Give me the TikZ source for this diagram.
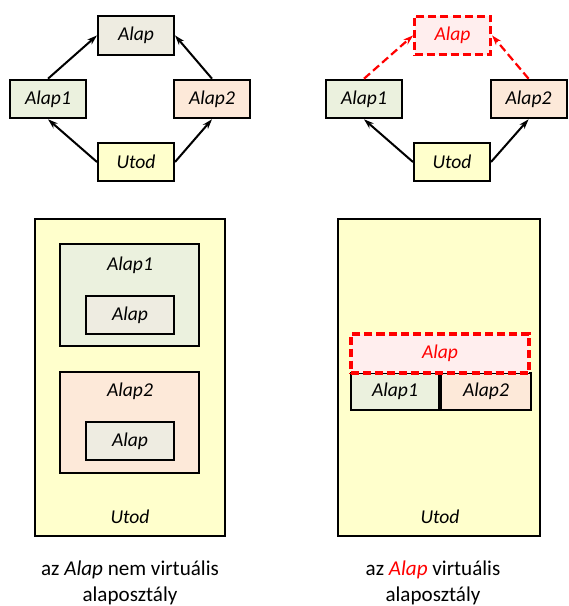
\documentclass[tikz,border=0pt]{standalone}
\usepackage{fontspec}
\setmainfont{Carlito}
\usepackage{tikz}
\usetikzlibrary{positioning, arrows.meta}

\definecolor{alapfill}{HTML}{EEECE1}
\definecolor{egyfill}{HTML}{EBF1DE}
\definecolor{kettofill}{HTML}{FDE9D9}
\definecolor{utodfill}{HTML}{FFFFCC}
\definecolor{virtfill}{HTML}{FFEEEE}

\begin{document}
\begin{tikzpicture}[
  >={Stealth[length=10pt, width=6.5pt]},
  cls/.style={draw, line width=2pt, minimum width=2.66cm,
    minimum height=1.35cm, font=\fontsize{19.5}{23}\selectfont\itshape,
    inner sep=0pt},
  virt/.style={cls, draw=red, fill=virtfill, dashed,
    dash pattern=on 8pt off 4pt, line width=3pt, text=red},
  box/.style={draw, line width=2pt, inner sep=0pt},
  lbl/.style={font=\fontsize{19.5}{23}\selectfont\itshape},
  caption/.style={font=\fontsize{21}{26}\selectfont, align=center},
  inherit/.style={->, line width=2pt},
  vinherit/.style={->, line width=2.2pt, red, dashed,
    dash pattern=on 8pt off 4pt},
]
\useasboundingbox (0,0) rectangle (19.915,21.21);

% === non-virtual (left) ===
\node[cls, fill=alapfill] (alapA) at (4.76, 19.97) {Alap};
\node[cls, fill=egyfill] (egyA) at (1.68, 17.745) {Alap1};
\node[cls, fill=kettofill] (kettoA) at (7.42, 17.745) {Alap2};
\node[cls, fill=utodfill] (utodA) at (4.76, 15.54) {Utod};

\draw[inherit] (egyA.north) -- (alapA.west);
\draw[inherit] (kettoA.north) -- (alapA.east);
\draw[inherit] (utodA.west) -- (egyA.south);
\draw[inherit] (utodA.east) -- (kettoA.south);

% === virtual (right) ===
\node[virt] (alapB) at (15.84, 19.97) {Alap};
\node[cls, fill=egyfill] (egyB) at (12.74, 17.745) {Alap1};
\node[cls, fill=kettofill] (kettoB) at (18.5, 17.745) {Alap2};
\node[cls, fill=utodfill] (utodB) at (15.82, 15.54) {Utod};

\draw[vinherit] (egyB.north) -- (alapB.west);
\draw[vinherit] (kettoB.north) -- (alapB.east);
\draw[inherit] (utodB.west) -- (egyB.south);
\draw[inherit] (utodB.east) -- (kettoB.south);

% === memory layout, non-virtual ===
\node[box, fill=utodfill, minimum width=6.65cm, minimum height=11.1cm]
  (objA) at (4.55, 8.0) {};
\node[box, fill=egyfill, minimum width=4.87cm, minimum height=3.57cm]
  (partEgyA) at (4.53, 10.885) {};
\node[lbl] (lblEgyA) at (4.55, 11.935) {Alap1};
\node[cls, fill=alapfill, minimum width=3.08cm, minimum height=1.33cm]
  (subAlapEgy) at (4.55, 10.185) {Alap};
\node[box, fill=kettofill, minimum width=4.87cm, minimum height=3.54cm]
  (partKettoA) at (4.53, 6.4225) {};
\node[lbl] (lblKettoA) at (4.55, 7.525) {Alap2};
\node[cls, fill=alapfill, minimum width=3.08cm, minimum height=1.33cm]
  (subAlapKetto) at (4.55, 5.775) {Alap};
\node[lbl] (lblUtodA) at (4.55, 3.115) {Utod};

\node[caption] (capA) at (4.55, 0.8225)
  {az \textit{Alap} nem virtuális\\alaposztály};

% === memory layout, virtual ===
\node[box, fill=utodfill, minimum width=7.07cm, minimum height=11.1cm]
  (objB) at (15.365, 8.0) {};
\node[cls, fill=egyfill, minimum width=3.08cm, minimum height=1.3cm]
  (partEgyB) at (13.825, 7.5075) {Alap1};
\node[cls, fill=kettofill, minimum width=3.15cm, minimum height=1.3cm,
  right=0pt of partEgyB] (partKettoB) {Alap2};
\node[virt, minimum width=6.23cm, minimum height=1.365cm]
  (partAlapB) at (15.4, 8.8375) {Alap};
\node[lbl] (lblUtodB) at (15.4, 3.115) {Utod};

\node[caption] (capB) at (15.155, 0.8225)
  {az \textit{\textcolor{red}{Alap}} virtuális\\alaposztály};

\end{tikzpicture}
\end{document}
